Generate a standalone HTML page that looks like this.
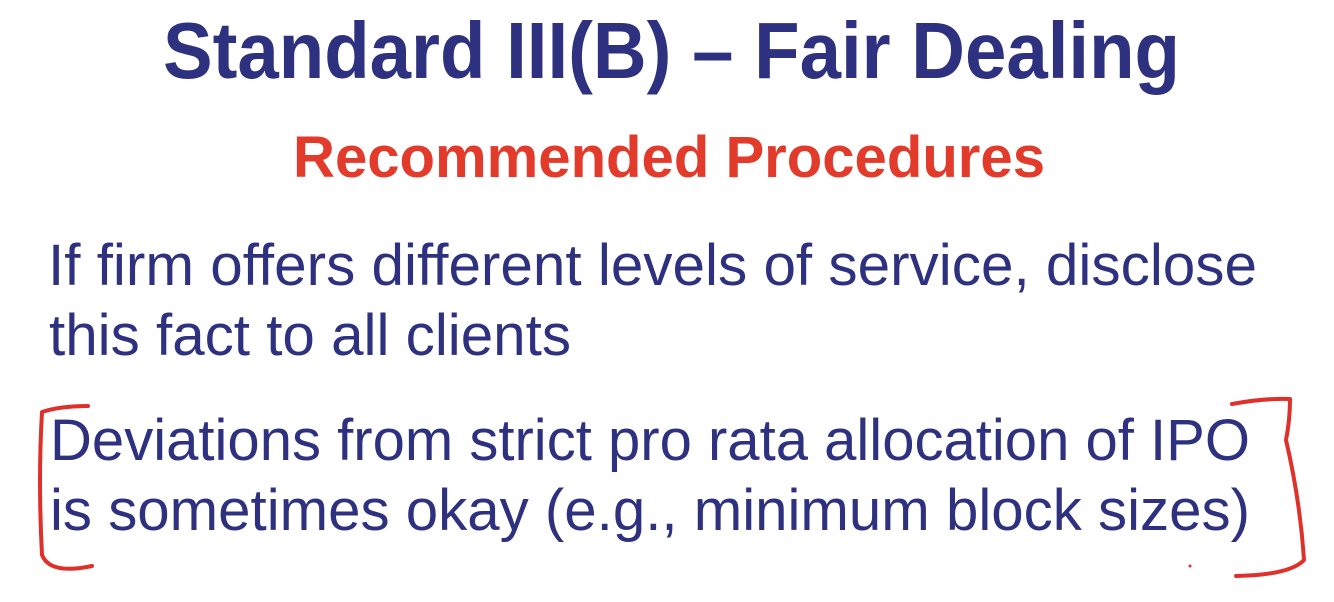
<!DOCTYPE html>
<html><head><meta charset="utf-8"><style>
html,body{margin:0;padding:0;background:#fff;}
svg{display:block;}
</style></head><body>
<svg width="1334" height="602" viewBox="0 0 1334 602">
<rect width="1334" height="602" fill="#fff"/>
<text x="163" y="78" textLength="1017" lengthAdjust="spacingAndGlyphs" font-family="Liberation Sans, sans-serif" font-weight="bold" font-size="80" fill="#2e3180">Standard III(B) – Fair Dealing</text>
<text x="293" y="177" textLength="752" lengthAdjust="spacingAndGlyphs" font-family="Liberation Sans, sans-serif" font-weight="bold" font-size="58" fill="#e23b2b">Recommended Procedures</text>
<g font-family="Liberation Sans, sans-serif" font-size="58" fill="#2e3180">
<text x="48" y="285" textLength="1209" lengthAdjust="spacingAndGlyphs">If firm offers different levels of service, disclose</text>
<text x="49" y="355" textLength="522" lengthAdjust="spacingAndGlyphs">this fact to all clients</text>
<text x="50" y="460" textLength="1200" lengthAdjust="spacingAndGlyphs">Deviations from strict pro rata allocation of IPO</text>
<text x="50" y="530" textLength="1200" lengthAdjust="spacingAndGlyphs">is sometimes okay (e.g., minimum block sizes)</text>
</g>
<g fill="none" stroke="#e0302a" stroke-width="4" stroke-linecap="round" stroke-linejoin="round">
<path d="M88 406 Q60 406 42 412 Q38 480 42 555 Q50 575 92 566"/>
<path d="M1232 404 Q1265 398 1290 399 Q1290 420 1286 440 Q1300 500 1304 560 Q1290 575 1236 576"/>
</g>
<circle cx="1190" cy="566" r="1.5" fill="#e0302a"/>
</svg>
</body></html>
